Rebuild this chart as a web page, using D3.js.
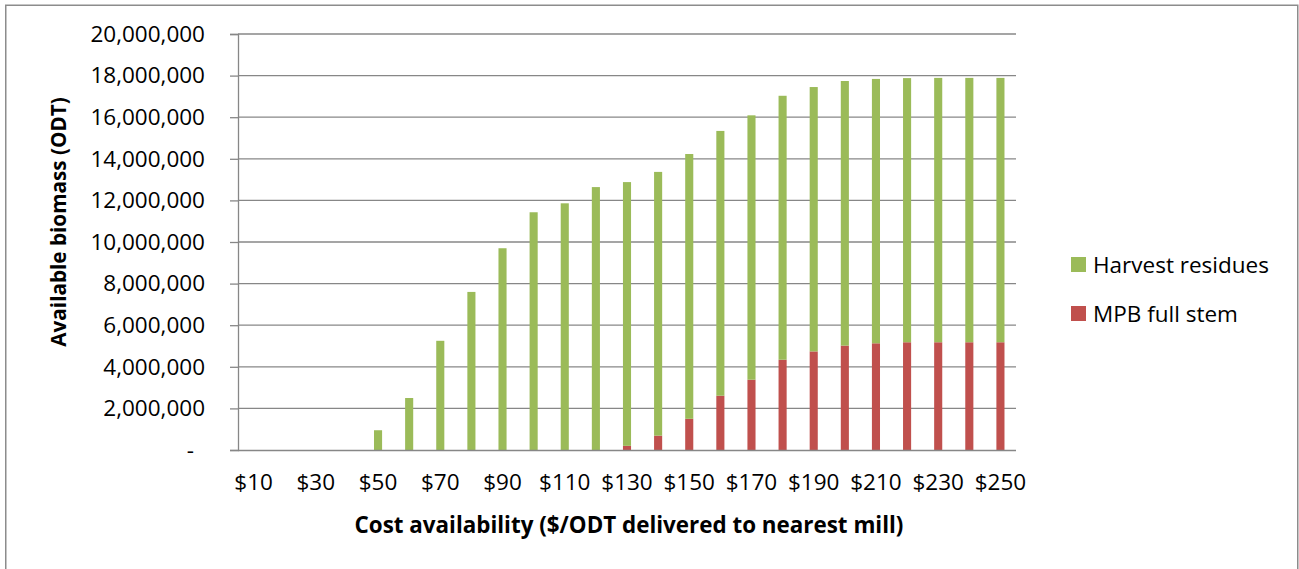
<!DOCTYPE html>
<html>
<head>
<meta charset="utf-8">
<script src="https://cdn.jsdelivr.net/npm/d3@7"></script>
<style>
  html, body { margin: 0; padding: 0; background: #fff; }
  svg { display: block; }
  text { font-family: "Open Sans", "Noto Sans", sans-serif; fill: #000; }
</style>
</head>
<body>
<svg id="chart" width="1299" height="569"></svg>
<script>
// Delivered cost classes ($/ODT)
const costs = ["$10","$20","$30","$40","$50","$60","$70","$80","$90","$100","$110","$120","$130",
               "$140","$150","$160","$170","$180","$190","$200","$210","$220","$230","$240","$250"];
// Mountain pine beetle killed full-stem biomass (ODT)
const mpbFullStem = [0,0,0,0,0,0,0,0,0,0,0,0,200000,
                     690000,1500000,2610000,3380000,4340000,4740000,5020000,5130000,5180000,5180000,5180000,5180000];
// Harvest residues (ODT)
const harvestResidues = [0,0,0,0,950000,2500000,5250000,7600000,9700000,11430000,11860000,12640000,12680000,
                         12680000,12730000,12730000,12710000,12690000,12710000,12720000,12710000,12700000,12710000,12710000,12710000];
const yTicks = [0,2000000,4000000,6000000,8000000,10000000,12000000,14000000,16000000,18000000,20000000];
const seriesNames = ["MPB full stem","Harvest residues"];
const colors = {"MPB full stem":"#c0504d","Harvest residues":"#9bbb59"};

const svg = d3.select("#chart");
const margin = {left: 238, right: 283, top: 34, bottom: 119};
const W = 1299, H = 569;
const plotW = W - margin.left - margin.right;
const plotH = H - margin.top - margin.bottom;

// outer chart frame
svg.append("rect").attr("x",5.75).attr("y",5.25).attr("width",1292).attr("height",600)
  .attr("fill","none").attr("stroke","#8c8c8c").attr("stroke-width",1.5);

const g = svg.append("g").attr("transform",`translate(${margin.left},${margin.top})`);

const x = d3.scaleBand().domain(costs).range([0,plotW]).paddingInner(0.74).paddingOuter(0.37);
const y = d3.scaleLinear().domain([0,20000000]).range([plotH,0]);

const rows = costs.map((c,i)=>({cost:c,"MPB full stem":mpbFullStem[i],"Harvest residues":harvestResidues[i]}));
const stacked = d3.stack().keys(seriesNames)(rows);

// horizontal gridlines
g.append("g").selectAll("line").data(yTicks.filter(t=>t>0)).join("line")
  .attr("x1",0).attr("x2",plotW).attr("y1",d=>y(d)).attr("y2",d=>y(d))
  .attr("stroke","#878787").attr("stroke-width",1.3);

// bars
g.append("g").selectAll("g").data(stacked).join("g")
  .attr("fill",d=>colors[d.key])
  .selectAll("rect").data(d=>d).join("rect")
  .attr("x",d=>x(d.data.cost))
  .attr("width",x.bandwidth())
  .attr("y",d=>y(d[1]))
  .attr("height",d=>Math.max(0,y(d[0])-y(d[1])));

// y axis (accounting style: zero shown as a dash, set in from the right)
const fmt = v => v===0 ? "-" : d3.format(",")(v);
const yAxis = g.append("g").call(d3.axisLeft(y).tickValues(yTicks).tickFormat(fmt).tickSize(8).tickPadding(25));
yAxis.select(".domain").attr("stroke","#878787").attr("stroke-width",1.3);
yAxis.selectAll(".tick line").attr("stroke","#878787").attr("stroke-width",1.3);
yAxis.selectAll("text").attr("font-size",22.5).attr("font-family","Open Sans, sans-serif").attr("fill","#000");
yAxis.selectAll(".tick text").filter(d=>d===0).attr("dx",-11);

// x axis
const xAxis = g.append("g").attr("transform",`translate(0,${plotH})`)
  .call(d3.axisBottom(x).tickValues(costs.filter((c,i)=>i%2===0)).tickSize(0).tickPadding(24));
xAxis.select(".domain").attr("stroke","#878787").attr("stroke-width",1.3).attr("d",`M0,0.5H${plotW}`);
xAxis.selectAll("text").attr("font-size",22.5).attr("font-family","Open Sans, sans-serif").attr("fill","#000");

// axis titles
svg.append("text").attr("transform","translate(66,222) rotate(-90)")
  .attr("text-anchor","middle").attr("font-size",20.7).attr("font-weight","bold")
  .text("Available biomass (ODT)");
svg.append("text").attr("x",629).attr("y",533)
  .attr("text-anchor","middle").attr("font-size",22.4).attr("font-weight","bold")
  .text("Cost availability ($/ODT delivered to nearest mill)");

// legend
const legendItems = ["Harvest residues","MPB full stem"];
const lg = svg.append("g").attr("transform","translate(1071,257)");
legendItems.forEach((k,i)=>{
  const row = lg.append("g").attr("transform",`translate(0,${i*49})`);
  row.append("rect").attr("x",0).attr("y",0).attr("width",15).attr("height",15).attr("fill",colors[k]);
  row.append("text").attr("x",22).attr("y",16).attr("font-size",22.5).text(k);
});
</script>
</body>
</html>
